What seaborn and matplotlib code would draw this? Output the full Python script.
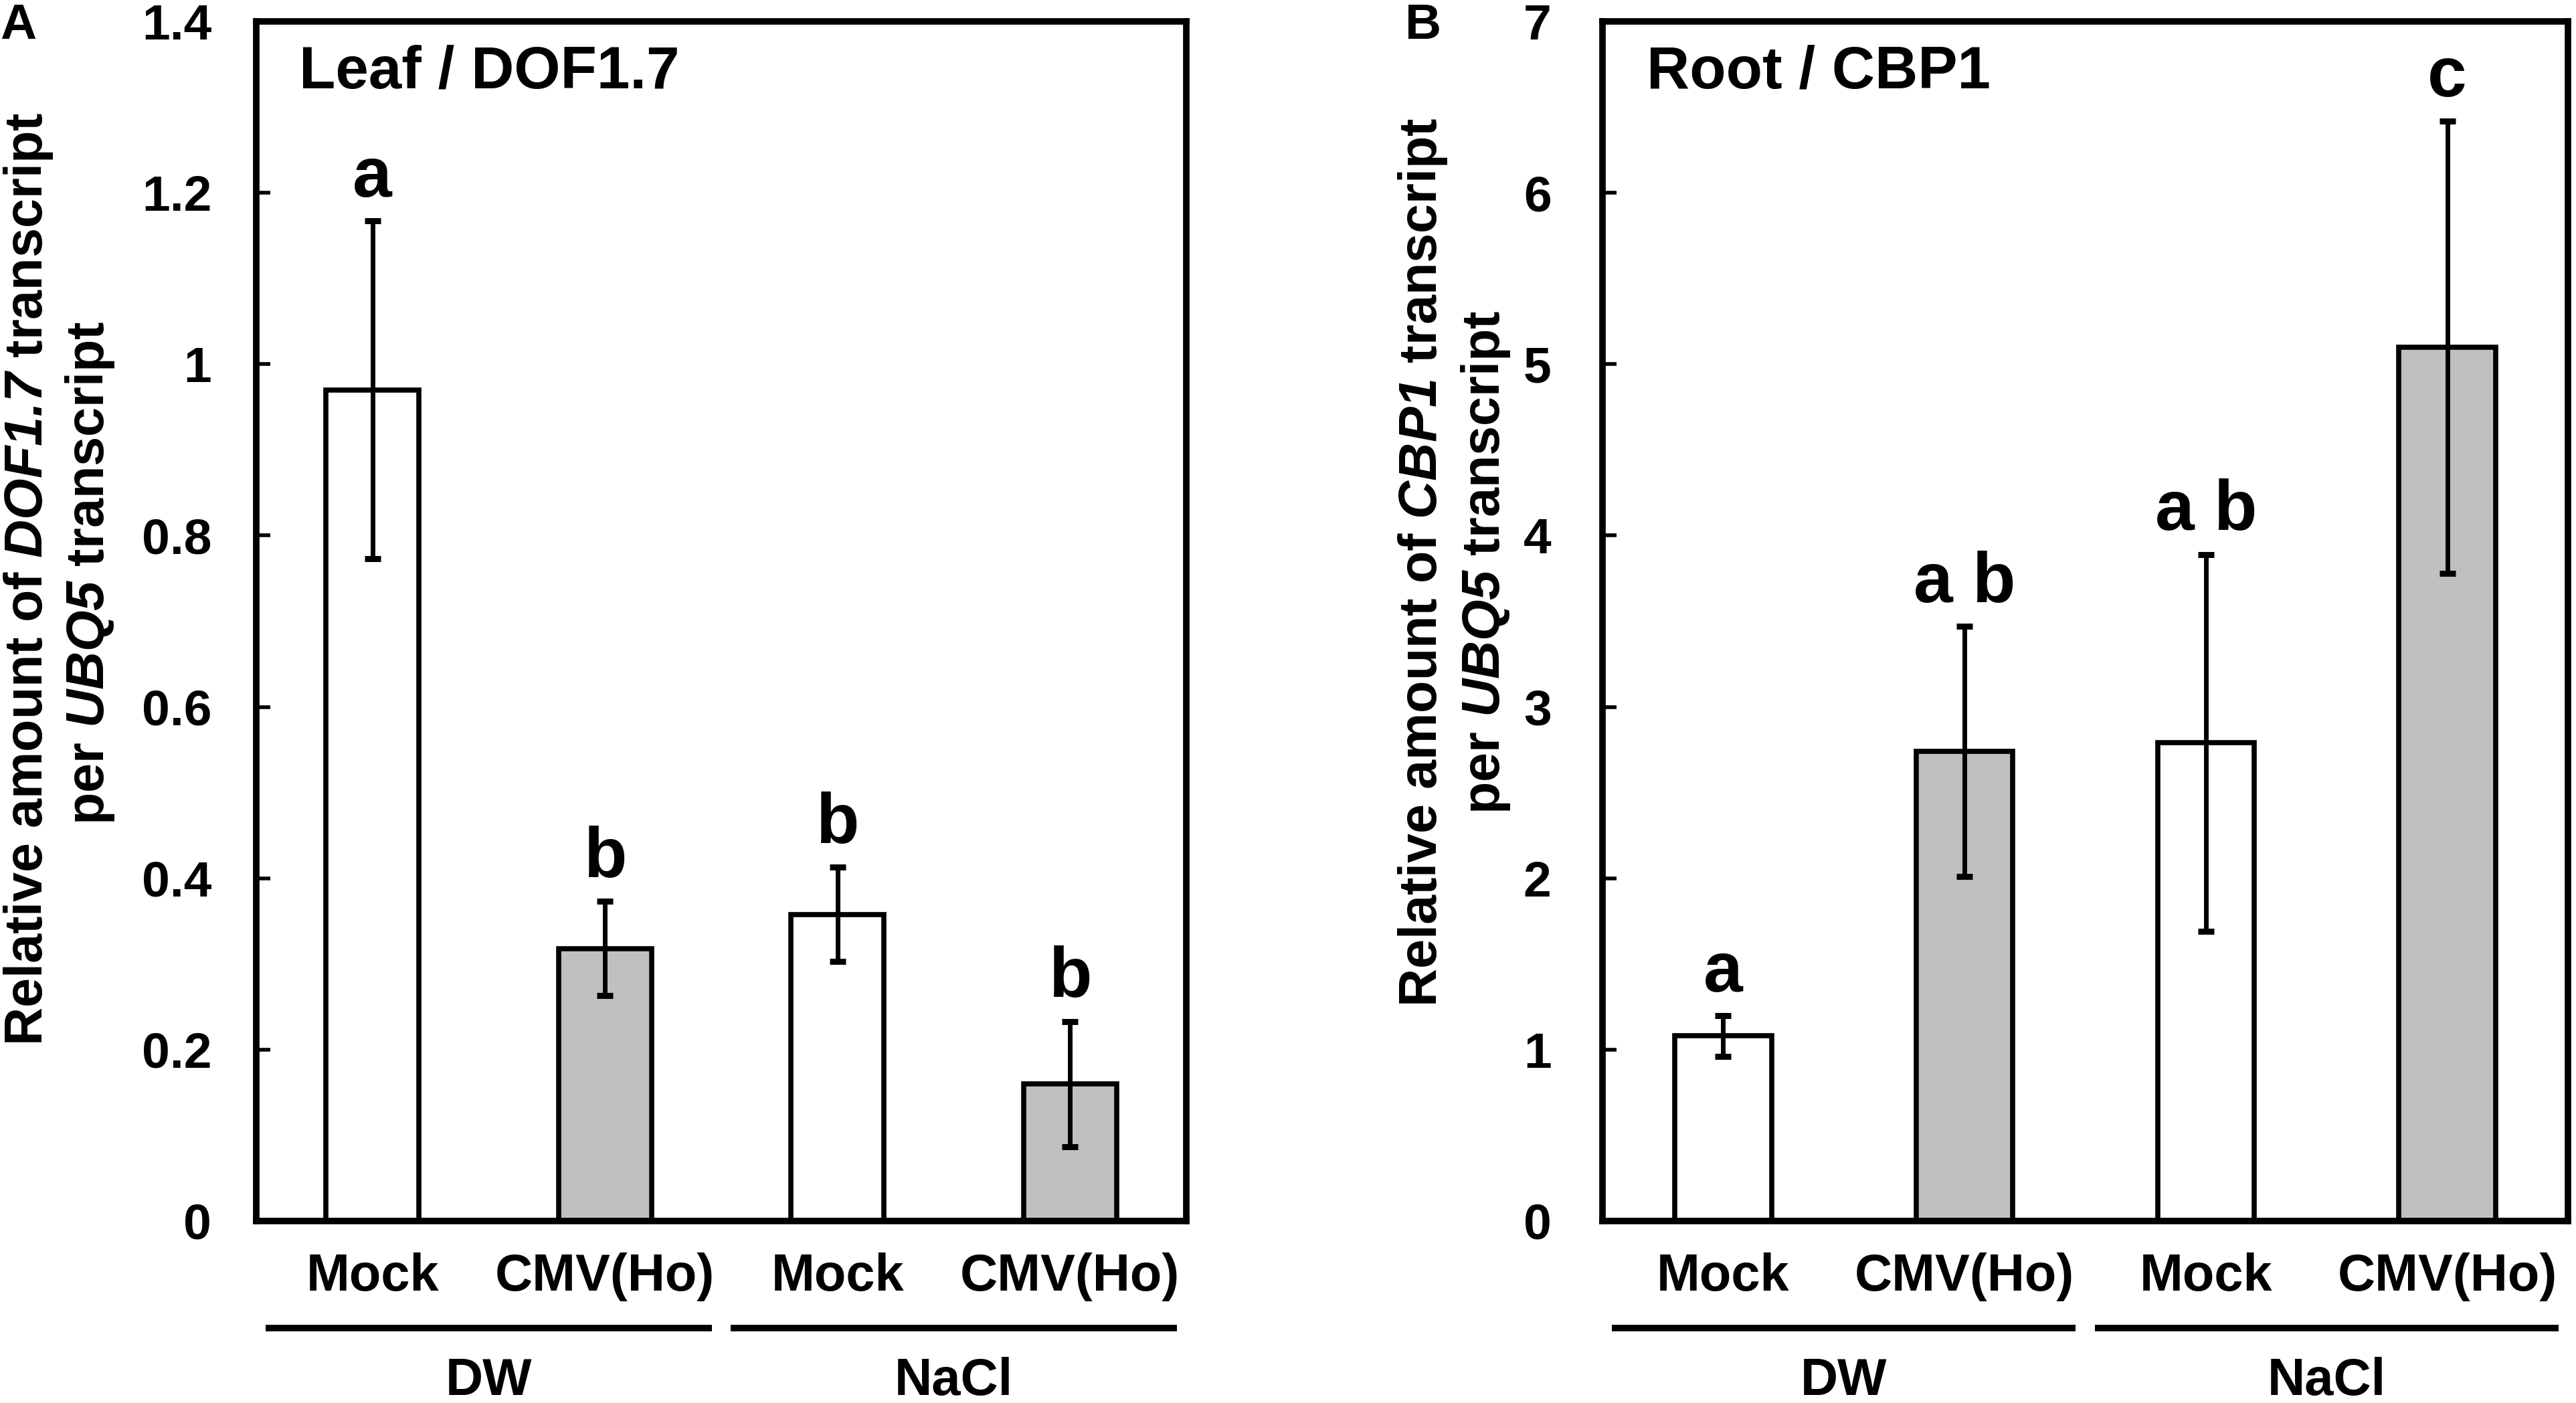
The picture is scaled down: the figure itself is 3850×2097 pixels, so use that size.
import matplotlib
matplotlib.use("Agg")
import matplotlib.pyplot as plt
import matplotlib.transforms as mtransforms
import seaborn as sns
import pandas as pd

# ---------------- data ----------------
conditions = ["DW-Mock", "DW-CMV", "NaCl-Mock", "NaCl-CMV"]
treatments = ["Mock", "CMV(Ho)", "Mock", "CMV(Ho)"]
groups = ["DW", "NaCl"]

leaf_mean = [0.97, 0.318, 0.358, 0.160]
leaf_err = [0.197, 0.055, 0.055, 0.073]
leaf_letters = ["a", "b", "b", "b"]
leaf_yticks = [0, 0.2, 0.4, 0.6, 0.8, 1.0, 1.2, 1.4]
leaf_yticklabels = ["0", "0.2", "0.4", "0.6", "0.8", "1", "1.2", "1.4"]

root_mean = [1.08, 2.74, 2.79, 5.10]
root_err = [0.12, 0.73, 1.10, 1.32]
root_letters = ["a", "a b", "a b", "c"]
root_yticks = [0, 1, 2, 3, 4, 5, 6, 7]
root_yticklabels = ["0", "1", "2", "3", "4", "5", "6", "7"]

panel_titles = ["Leaf / DOF1.7", "Root / CBP1"]
panel_tags = ["A", "B"]
ylabel_line1 = [r"Relative amount of $DOF1.7$ transcript",
                r"Relative amount of $CBP1$ transcript"]
ylabel_line2 = r"per $UBQ5$ transcript"

# ---------------- style ----------------
sns.set_style("ticks")
plt.rcParams["font.family"] = ["Liberation Sans", "DejaVu Sans"]
plt.rcParams["font.weight"] = "bold"
plt.rcParams["text.color"] = "black"
plt.rcParams["axes.labelcolor"] = "black"
plt.rcParams["xtick.color"] = "black"
plt.rcParams["ytick.color"] = "black"
plt.rcParams["mathtext.fontset"] = "custom"
plt.rcParams["mathtext.rm"] = "Liberation Sans:italic:bold"
plt.rcParams["mathtext.it"] = "Liberation Sans:italic:bold"
plt.rcParams["mathtext.bf"] = "Liberation Sans:italic:bold"

W, H = 3850, 2097
fig = plt.figure(figsize=(W / 100, H / 100), dpi=100)
fig.patch.set_facecolor("white")

palette = {"Mock": "white", "CMV(Ho)": "#c0c0c0"}

axes_rects = [
    [383 / W, (H - 1825) / H, 1390 / W, 1793 / H],
    [2395 / W, (H - 1825) / H, 1443 / W, 1793 / H],
]
ytick_pads = [48, 55]
ylabel_x = [(43 / W, 135 / W), (2127 / W, 2220 / W)]
ylabel_y = [(1 - 866 / H, 1 - 857 / H), (1 - 841 / H, 1 - 841 / H)]
tag_x = [0.0, 2100 / W]

panels = [
    (leaf_mean, leaf_err, leaf_letters, (0, 1.4), leaf_yticks, leaf_yticklabels),
    (root_mean, root_err, root_letters, (0, 7), root_yticks, root_yticklabels),
]

for i, (mean, err, letters, ylim, yt, ytl) in enumerate(panels):
    ax = fig.add_axes(axes_rects[i])
    df = pd.DataFrame({"cond": conditions, "treat": treatments, "value": mean, "err": err})
    sns.barplot(data=df, x="cond", y="value", hue="treat", order=conditions,
                palette=palette, dodge=False, width=0.4, edgecolor="black",
                linewidth=5.5, errorbar=None, legend=False, ax=ax, zorder=2)
    ax.errorbar(range(len(conditions)), df["value"], yerr=df["err"], fmt="none",
                ecolor="black", elinewidth=5, capsize=8.5, capthick=6.5, zorder=3)
    for xi, (m, e, lab) in enumerate(zip(mean, err, letters)):
        ax.annotate(lab, xy=(xi, m + e), xytext=(0, 26), textcoords="offset points",
                    ha="center", va="baseline", fontsize=76, fontweight="bold")

    ax.set_xlim(-0.5, len(conditions) - 0.5)
    ax.set_ylim(*ylim)
    ax.set_yticks(yt)
    ax.set_yticklabels(ytl)
    ax.set_xticks(range(len(conditions)))
    ax.set_xticklabels(treatments)
    ax.set_xlabel("")
    ax.set_ylabel("")
    for s in ax.spines.values():
        s.set_visible(True)
        s.set_linewidth(7)
        s.set_color("black")
    ax.tick_params(axis="y", direction="in", length=15, width=4, pad=ytick_pads[i],
                   labelsize=54, colors="black")
    ax.tick_params(axis="x", length=0, pad=34, labelsize=56, colors="black")
    for t in ax.get_xticklabels() + ax.get_yticklabels():
        t.set_fontweight("bold")

    # group underlines and labels
    trans = mtransforms.blended_transform_factory(ax.transData, ax.transAxes)
    for g, gname in enumerate(groups):
        c = 2 * g + 0.5
        ax.plot([c - 0.96, c + 0.96], [-0.089, -0.089], color="black", lw=7,
                transform=trans, clip_on=False, solid_capstyle="butt")
        ax.text(c, -0.145, gname, transform=trans, ha="center", va="baseline",
                fontsize=56, fontweight="bold")

    # panel title inside
    ax.text(0.046, 0.981, panel_titles[i], transform=ax.transAxes, ha="left", va="top",
            fontsize=64, fontweight="bold")

    # y label (two centred lines)
    fig.text(ylabel_x[i][0], ylabel_y[i][0], ylabel_line1[i], rotation=90, ha="center",
             va="center", fontsize=57, fontweight="bold")
    fig.text(ylabel_x[i][1], ylabel_y[i][1], ylabel_line2, rotation=90, ha="center",
             va="center", fontsize=57, fontweight="bold")

    # panel tag
    fig.text(tag_x[i], 1 - 58 / H, panel_tags[i], ha="left", va="baseline",
             fontsize=54, fontweight="bold")

fig.savefig("out.png", dpi=100, facecolor="white")
